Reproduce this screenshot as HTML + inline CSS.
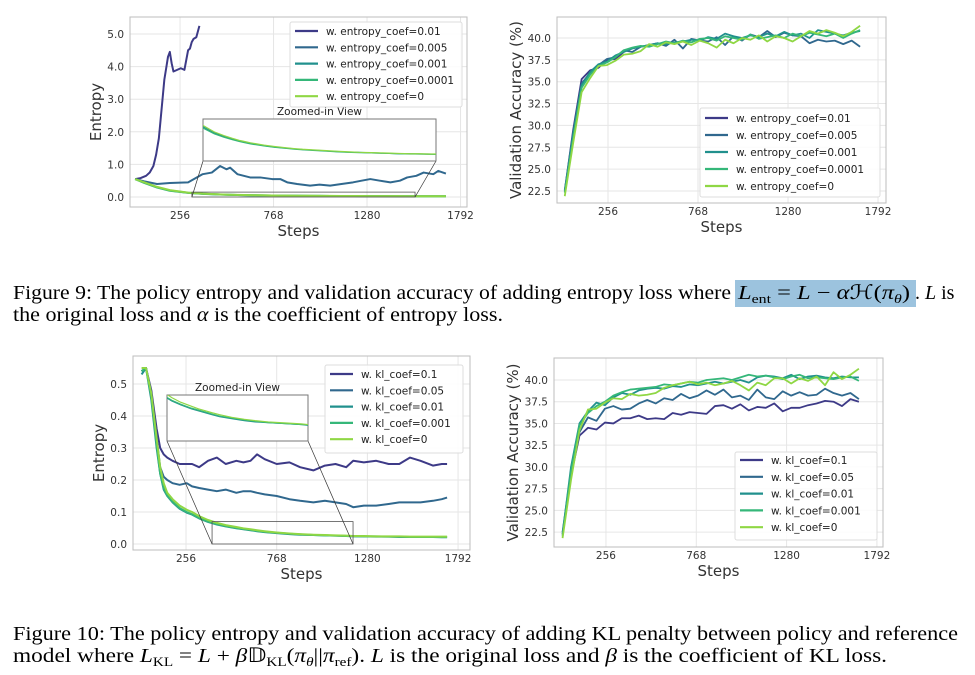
<!DOCTYPE html>
<html><head><meta charset="utf-8"><style>
html,body{margin:0;padding:0;background:#fff;width:975px;height:675px;overflow:hidden}
svg{display:block}
.tk{font-family:"DejaVu Sans","Liberation Sans",sans-serif;font-size:10.5px;fill:#333}
.lab{font-family:"DejaVu Sans","Liberation Sans",sans-serif;font-size:15px;fill:#333}
.leg{font-family:"DejaVu Sans","Liberation Sans",sans-serif;font-size:10.5px;fill:#222}
.cap{font-family:"Liberation Serif",serif;font-size:20px;fill:#000}
</style></head><body>
<svg id="root" width="975" height="675" viewBox="0 0 975 675">
<rect x="735" y="280" width="181" height="27" fill="#9cc3de"/>
<text class="cap" x="13" y="299" textLength="718" lengthAdjust="spacingAndGlyphs">Figure 9: The policy entropy and validation accuracy of adding entropy loss where</text>
<text class="cap" x="738" y="299" textLength="172" lengthAdjust="spacingAndGlyphs"><tspan font-style="italic">L</tspan><tspan font-size="13" dy="4">ent</tspan><tspan dy="-4"> = </tspan><tspan font-style="italic">L</tspan> − <tspan font-style="italic">α</tspan>ℋ(<tspan font-style="italic">π</tspan><tspan font-size="13" dy="4" font-style="italic">θ</tspan><tspan dy="-4">)</tspan></text>
<text class="cap" x="915" y="299">. <tspan font-style="italic">L</tspan> is</text>
<text class="cap" x="13" y="321" textLength="490" lengthAdjust="spacingAndGlyphs">the original loss and <tspan font-style="italic">α</tspan> is the coefficient of entropy loss.</text>
<text class="cap" x="13" y="640" textLength="945" lengthAdjust="spacingAndGlyphs">Figure 10: The policy entropy and validation accuracy of adding KL penalty between policy and reference</text>
<text class="cap" x="13" y="662" textLength="874" lengthAdjust="spacingAndGlyphs">model where <tspan font-style="italic">L</tspan><tspan font-size="13" dy="4">KL</tspan><tspan dy="-4"> = </tspan><tspan font-style="italic">L</tspan> + <tspan font-style="italic">β</tspan>𝔻<tspan font-size="13" dy="4">KL</tspan><tspan dy="-4">(</tspan><tspan font-style="italic">π</tspan><tspan font-size="13" dy="4" font-style="italic">θ</tspan><tspan dy="-4">||</tspan><tspan font-style="italic">π</tspan><tspan font-size="13" dy="4">ref</tspan><tspan dy="-4">). </tspan><tspan font-style="italic">L</tspan> is the original loss and <tspan font-style="italic">β</tspan> is the coefficient of KL loss.</text>
</svg>
<script>
const colors=["#3d3a87","#30688e","#21908d","#35b779","#8fd744"];
const xTicks=[256,768,1280,1792];
const entTicks=[0,1,2,3,4,5];
const entTickLabels=["0.0","1.0","2.0","3.0","4.0","5.0"];
const klTicks=[0,0.1,0.2,0.3,0.4,0.5];
const klTickLabels=["0.0","0.1","0.2","0.3","0.4","0.5"];
const accTicks=[22.5,25,27.5,30,32.5,35,37.5,40];
const accTickLabels=["22.5","25.0","27.5","30.0","32.5","35.0","37.5","40.0"];
const entLegend=["w. entropy_coef=0.01","w. entropy_coef=0.005","w. entropy_coef=0.001","w. entropy_coef=0.0001","w. entropy_coef=0"];
const klLegend=["w. kl_coef=0.1","w. kl_coef=0.05","w. kl_coef=0.01","w. kl_coef=0.001","w. kl_coef=0"];

const e1StepsA=[10,40,70,90,110,125,140,150,160,170,180,190,200,210,220,240,260,280,300,310,320,330,345,362];
const e1A=[0.55,0.58,0.65,0.75,0.95,1.3,1.8,2.4,3.0,3.6,3.95,4.3,4.45,4.1,3.85,3.9,3.95,3.9,4.5,4.55,4.75,4.85,4.9,5.25];
const e1Steps=[10,60,130,200,300,380,430,475,510,530,570,640,695,760,805,843,897,968,1020,1078,1140,1204,1250,1298,1350,1408,1460,1500,1550,1590,1643,1670,1712];
const e1B=[0.55,0.48,0.4,0.43,0.45,0.7,0.75,0.95,0.85,0.9,0.7,0.6,0.6,0.55,0.55,0.45,0.4,0.35,0.38,0.35,0.4,0.45,0.5,0.55,0.5,0.45,0.5,0.6,0.65,0.75,0.7,0.8,0.72];
const e1C=[0.55,0.44,0.3,0.2,0.13,0.1,0.088,0.078,0.072,0.069,0.063,0.055,0.05,0.046,0.043,0.041,0.039,0.036,0.034,0.032,0.031,0.029,0.028,0.027,0.026,0.026,0.025,0.025,0.024,0.024,0.023,0.023,0.023];
const e1D=[0.55,0.43,0.29,0.19,0.125,0.097,0.085,0.076,0.07,0.067,0.061,0.054,0.049,0.045,0.042,0.04,0.038,0.035,0.033,0.031,0.03,0.029,0.028,0.027,0.026,0.025,0.025,0.024,0.024,0.023,0.023,0.023,0.022];
const e1E=[0.55,0.45,0.31,0.21,0.135,0.104,0.091,0.081,0.074,0.071,0.065,0.057,0.052,0.047,0.044,0.042,0.04,0.037,0.035,0.033,0.031,0.03,0.029,0.028,0.027,0.026,0.026,0.025,0.025,0.024,0.024,0.024,0.024];

const k1Steps=[5,30,60,90,110,130,150,180,220,260,290,330,380,430,480,540,580,620,657,700,768,840,900,975,1040,1100,1160,1200,1260,1330,1400,1460,1520,1580,1650,1700,1730];
const k1A=[0.54,0.55,0.48,0.36,0.3,0.28,0.27,0.26,0.25,0.25,0.25,0.24,0.26,0.27,0.25,0.26,0.255,0.26,0.28,0.265,0.25,0.255,0.24,0.23,0.245,0.25,0.24,0.26,0.255,0.26,0.25,0.25,0.27,0.26,0.245,0.25,0.25];
const k1B=[0.54,0.55,0.47,0.33,0.24,0.21,0.2,0.19,0.185,0.19,0.18,0.175,0.17,0.165,0.17,0.16,0.165,0.165,0.16,0.155,0.15,0.14,0.135,0.13,0.135,0.13,0.125,0.115,0.12,0.12,0.125,0.13,0.13,0.13,0.135,0.14,0.145];
const k1C=[0.53,0.55,0.45,0.3,0.22,0.17,0.15,0.13,0.11,0.098,0.092,0.08,0.069,0.061,0.055,0.049,0.046,0.043,0.04,0.037,0.034,0.031,0.029,0.028,0.027,0.026,0.025,0.024,0.024,0.023,0.023,0.022,0.022,0.022,0.022,0.021,0.021];
const k1D=[0.54,0.55,0.46,0.31,0.22,0.175,0.152,0.132,0.112,0.1,0.093,0.081,0.07,0.062,0.056,0.05,0.047,0.044,0.041,0.038,0.035,0.032,0.03,0.028,0.027,0.026,0.025,0.025,0.024,0.024,0.023,0.023,0.022,0.022,0.022,0.022,0.022];
const k1E=[0.55,0.55,0.47,0.33,0.24,0.19,0.16,0.14,0.12,0.107,0.1,0.087,0.075,0.066,0.059,0.053,0.049,0.046,0.043,0.04,0.036,0.033,0.031,0.029,0.028,0.027,0.026,0.025,0.025,0.024,0.024,0.024,0.023,0.023,0.023,0.023,0.023];

const accSteps=[10,58,106,154,202,250,298,346,394,442,490,538,586,634,682,730,778,826,874,922,970,1018,1066,1114,1162,1210,1258,1306,1354,1402,1450,1498,1546,1594,1642,1690];
const a1A=[22.5,29.5,35.3,36.3,36.6,37.5,37.6,38.4];
const a1B=[22.6,29.2,34.8,36.0,36.9,37.6,37.8,38.6,38.4,39.0,39.2,39.4,39.1,39.8,38.8,39.9,39.7,39.6,40.1,39.2,40.2,39.7,40.4,40.1,40.8,40.1,40.6,40.3,40.2,39.4,39.8,39.6,39.7,39.3,39.7,39.0];
const a1C=[22.4,29.0,34.6,36.1,37.0,37.3,38.0,38.4,38.8,39.0,39.2,39.4,39.3,39.5,39.6,39.8,39.7,40.1,39.9,40.5,40.2,40.0,40.3,40.1,40.5,40.2,40.7,40.3,40.5,40.0,40.9,40.7,40.5,40.3,40.6,40.8];
const a1D=[22.3,28.5,34.3,35.8,36.8,37.2,37.8,38.6,38.9,39.1,39.0,39.3,39.6,39.4,39.7,39.5,39.9,40.0,39.7,40.2,40.0,39.8,40.4,39.9,40.1,40.3,40.0,40.5,40.2,40.6,40.4,40.2,40.5,40.0,40.5,40.9];
const a1E=[21.9,28.0,33.8,35.4,36.8,36.9,37.4,38.1,38.2,38.5,39.3,39.0,39.5,39.3,39.6,39.2,39.7,39.4,38.9,39.8,39.4,40.0,39.8,40.3,39.6,40.2,40.0,39.6,40.2,40.8,40.5,40.9,40.6,40.2,40.7,41.4];

const a2A=[22.2,29.0,33.6,34.5,34.3,35.1,35.0,35.6,35.6,35.9,35.5,35.6,35.5,36.2,36.0,36.3,36.2,36.1,37.0,37.1,36.7,37.2,36.5,36.9,36.8,37.3,36.4,36.8,36.8,37.1,37.3,37.6,37.5,37.0,37.8,37.5];
const a2B=[22.5,29.5,34.0,35.7,35.3,36.7,37.0,36.6,36.7,37.3,37.7,37.3,37.9,37.7,38.4,37.9,38.2,38.8,38.3,38.9,38.0,38.2,37.7,38.9,38.0,37.8,38.7,38.2,38.6,38.2,38.3,39.0,38.5,38.2,38.5,37.8];
const a2C=[22.3,30.0,35.0,36.4,37.4,37.1,38.0,38.5,38.3,38.8,39.0,39.1,39.0,39.3,39.2,39.5,39.4,39.6,39.8,39.6,39.8,40.0,39.7,40.3,40.5,40.4,40.2,40.6,40.1,40.4,40.5,40.3,40.2,40.4,40.3,40.3];
const a2D=[22.0,29.5,34.8,36.2,37.0,37.5,38.2,38.6,38.9,39.0,39.1,39.2,39.5,39.4,39.6,39.8,39.7,40.0,40.1,40.2,40.0,40.3,40.6,40.4,40.5,40.3,40.1,40.4,40.6,40.2,40.3,40.2,40.1,40.3,40.4,39.9];
const a2E=[21.8,28.5,34.2,36.6,36.7,37.4,37.9,37.8,38.4,38.2,38.3,38.5,39.1,39.4,39.6,39.8,39.5,39.7,39.4,39.6,39.9,39.4,38.8,39.7,39.4,40.2,40.2,39.6,40.2,39.9,40.4,39.4,40.9,40.1,40.6,41.3];

const NS="http://www.w3.org/2000/svg";
const root=document.getElementById('root');
function mk(tag,attrs,parent){const e=document.createElementNS(NS,tag);for(const k in attrs)e.setAttribute(k,attrs[k]);(parent||root).appendChild(e);return e;}
let clipId=0;
function pathD(steps,vals,sx,sy){let d="";for(let i=0;i<vals.length;i++){d+=(i?"L":"M")+sx(steps[i]).toFixed(2)+","+sy(vals[i]).toFixed(2);}return d;}

function drawChart(c){
  const g=mk('g',{});
  
  
  const sx=v=>c.x0+v*c.kx;
  const sy=v=>c.py0-(v-c.v0)*c.ky;
  const fr=mk('rect',{x:c.L,y:c.T,width:c.R-c.L,height:c.B-c.T,fill:"#fff",stroke:"none"},g);
  
  
  c.xt.forEach(t=>{
    const l=mk('line',{x1:sx(t),x2:sx(t),y1:c.T,y2:c.B,stroke:"#e6e6e6","stroke-width":1},g);
    
    
    const tx=mk('text',{x:sx(t),y:c.B+12,"text-anchor":"middle",class:"tk"},g);tx.textContent=t;
    
    
  });
  c.yt.forEach((t,i)=>{
    const l=mk('line',{x1:c.L,x2:c.R,y1:sy(t),y2:sy(t),stroke:"#e6e6e6","stroke-width":1},g);
    
    
    const tx=mk('text',{x:c.L-6,y:sy(t)+4,"text-anchor":"end",class:"tk"},g);tx.textContent=c.yl[i];
    
    
  });
  const cid="clip"+(clipId++);
  const cp=mk('clipPath',{id:cid},g);mk('rect',{x:c.L,y:c.T,width:c.R-c.L,height:c.B-c.T},cp);
  c.series.forEach((s,i)=>{
    const p=mk('path',{d:pathD(s.steps,s.vals,sx,sy),fill:"none",stroke:colors[i],"stroke-width":c.sw,"stroke-linejoin":"round","clip-path":"url(#"+cid+")"},g);
    
    
  });
  if(c.inset){
    const n=c.inset;
    const isx=v=>n.L+(v-n.s0)/(n.s1-n.s0)*(n.R-n.L);
    const isy=v=>n.B-(v-n.v0)/(n.v1-n.v0)*(n.B-n.T);
    const r1=sx(n.s0),r2=sx(n.s1),rt=sy(n.v1),rb=sy(n.v0);
    const src=mk('rect',{x:r1,y:rt,width:r2-r1,height:rb-rt,fill:"none",stroke:"#555","stroke-width":0.8},g);
    
    
    const l1=mk('line',{x1:n.L,y1:n.B,x2:r1,y2:rb,stroke:"#333","stroke-width":0.7},g);
    
    
    const l2=mk('line',{x1:n.R,y1:n.B,x2:r2,y2:rb,stroke:"#333","stroke-width":0.7},g);
    
    
    const ib=mk('rect',{x:n.L,y:n.T,width:n.R-n.L,height:n.B-n.T,fill:"#fff",stroke:"#777","stroke-width":1},g);
    
    
    const icid="clip"+(clipId++);
    const icp=mk('clipPath',{id:icid},g);mk('rect',{x:n.L,y:n.T,width:n.R-n.L,height:n.B-n.T},icp);
    n.idx.forEach(i=>{
      const s=c.series[i];
      const p=mk('path',{d:pathD(s.steps,s.vals,isx,isy),fill:"none",stroke:colors[i],"stroke-width":1.2,"clip-path":"url(#"+icid+")"},g);
      
      
    });
    const tt=mk('text',{x:(n.L+n.R)/2,y:n.T-4,"text-anchor":"middle",class:"leg"},g);tt.textContent="Zoomed-in View";
    
    
  }
  const bd=mk('rect',{x:c.L,y:c.T,width:c.R-c.L,height:c.B-c.T,fill:"none",stroke:"#bdbdbd","stroke-width":1},g);
  
  
  const lg=c.leg;
  const lgb=mk('rect',{x:lg.x,y:lg.y,width:lg.w,height:lg.h,rx:2,fill:"#fff","fill-opacity":0.85,stroke:"#ddd","stroke-width":1},g);
  
  
  c.labels.forEach((t,i)=>{
    const y=lg.y0+i*lg.dy;
    const ln=mk('line',{x1:lg.x+5,x2:lg.x+28,y1:y,y2:y,stroke:colors[i],"stroke-width":2.2},g);
    
    
    const tx=mk('text',{x:lg.x+36,y:y+4,class:"leg"},g);tx.textContent=t;
    
    
  });
  const xl=mk('text',{x:(c.L+c.R)/2,y:c.B+29,"text-anchor":"middle",class:"lab"},g);xl.textContent="Steps";
  
  
  const yx=c.ylx,yy=(c.T+c.B)/2;
  const yl=mk('text',{x:yx,y:yy,"text-anchor":"middle",class:"lab",transform:"rotate(-90 "+yx+" "+yy+")"},g);yl.textContent=c.ytitle;
  
  
}

drawChart({name:"entropy-coef-entropy-chart",L:130,R:467,T:17,B:207,x0:133.3,kx:0.1826,py0:197,v0:0,ky:32.6,xt:xTicks,yt:entTicks,yl:entTickLabels,sw:2,
  series:[{steps:e1StepsA,vals:e1A},{steps:e1Steps,vals:e1B},{steps:e1Steps,vals:e1C},{steps:e1Steps,vals:e1D},{steps:e1Steps,vals:e1E}],
  inset:{L:203,R:436,T:119,B:161,s0:321,s1:1543,v0:0,v1:0.15,idx:[2,3,4]},
  leg:{x:290,y:22,w:172,h:85,y0:31,dy:16.3},labels:entLegend,ytitle:"Entropy",ylx:101});
drawChart({name:"entropy-coef-accuracy-chart",L:557,R:886,T:17,B:203,x0:563,kx:0.1758,py0:38,v0:40,ky:8.74,xt:xTicks,yt:accTicks,yl:accTickLabels,sw:1.8,
  series:[{steps:accSteps,vals:a1A},{steps:accSteps,vals:a1B},{steps:accSteps,vals:a1C},{steps:accSteps,vals:a1D},{steps:accSteps,vals:a1E}],
  leg:{x:700,y:108,w:180,h:89,y0:118,dy:17},labels:entLegend,ytitle:"Validation Accuracy (%)",ylx:521});
drawChart({name:"kl-coef-entropy-chart",L:133,R:470,T:356,B:550,x0:140.7,kx:0.1771,py0:544,v0:0,ky:320,xt:xTicks,yt:klTicks,yl:klTickLabels,sw:2,
  series:[{steps:k1Steps,vals:k1A},{steps:k1Steps,vals:k1B},{steps:k1Steps,vals:k1C},{steps:k1Steps,vals:k1D},{steps:k1Steps,vals:k1E}],
  inset:{L:167,R:308,T:395,B:441,s0:403,s1:1199,v0:0,v1:0.07,idx:[2,3,4]},
  leg:{x:325,y:365,w:138,h:88,y0:374,dy:16.3},labels:klLegend,ytitle:"Entropy",ylx:104});
drawChart({name:"kl-coef-accuracy-chart",L:554,R:883,T:358,B:547,x0:560.8,kx:0.1764,py0:380,v0:40,ky:8.69,xt:xTicks,yt:accTicks,yl:accTickLabels,sw:1.8,
  series:[{steps:accSteps,vals:a2A},{steps:accSteps,vals:a2B},{steps:accSteps,vals:a2C},{steps:accSteps,vals:a2D},{steps:accSteps,vals:a2E}],
  leg:{x:735,y:452,w:142,h:88,y0:460,dy:16.8},labels:klLegend,ytitle:"Validation Accuracy (%)",ylx:518});
</script>
</body></html>
